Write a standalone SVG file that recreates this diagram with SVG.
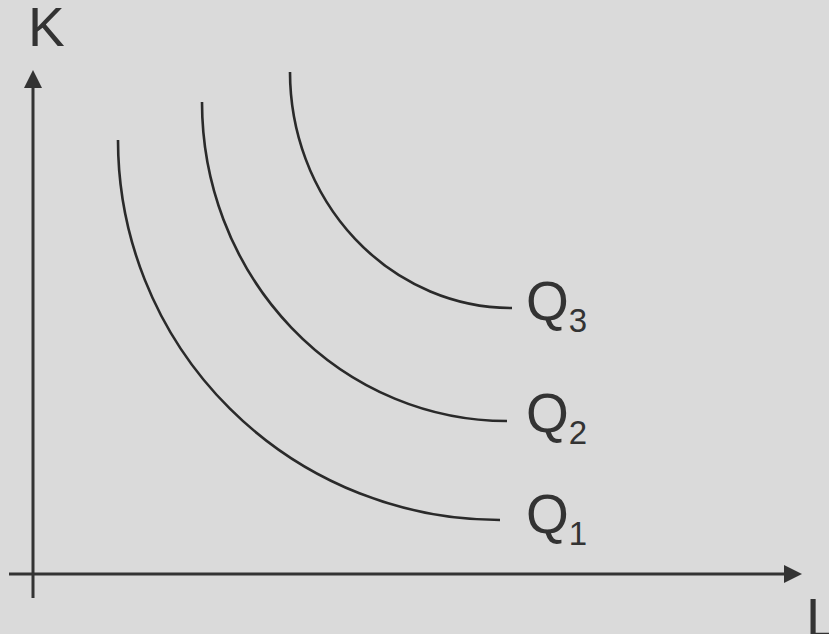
<svg xmlns="http://www.w3.org/2000/svg" width="829" height="634" viewBox="0 0 829 634">
<style>
.ax{stroke:#333;stroke-width:3;fill:none}
.cv{stroke:#2a2a2a;stroke-width:2.6;fill:none}
.t{font-family:"Liberation Sans",Arial,sans-serif;fill:#333}
.big{font-size:55px}
.sub{font-size:33px}
</style>
<defs>
<marker id="ah" markerWidth="6" markerHeight="6" refX="0" refY="3" orient="auto" markerUnits="strokeWidth">
<path d="M0,0 L6,3 L0,6 z" fill="#333"/>
</marker>
</defs>
<rect width="829" height="634" fill="#dadada"/>
<g id="connectors">
<line class="ax" x1="33" y1="598" x2="33" y2="88" marker-end="url(#ah)"/>
<line class="ax" x1="9" y1="574" x2="784" y2="574" marker-end="url(#ah)"/>
</g>
<g id="q1"><path class="cv" d="M118,140 A382,380 0 0 0 500,520"/>
<text class="t big" x="526" y="533">Q<tspan class="sub" dy="12">1</tspan></text></g>
<g id="q2"><path class="cv" d="M202,102 A305,319 0 0 0 507,421"/>
<text class="t big" x="526" y="432">Q<tspan class="sub" dy="12">2</tspan></text></g>
<g id="q3"><path class="cv" d="M290,72 A222,236 0 0 0 512,308"/>
<text class="t big" x="526" y="320">Q<tspan class="sub" dy="12">3</tspan></text></g>
<g id="labels">
<text class="t big" x="28" y="46">K</text>
<text class="t big" x="806" y="637">L</text>
</g>
</svg>
